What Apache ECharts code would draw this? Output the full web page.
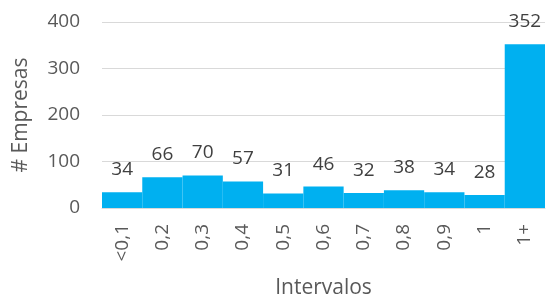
<!DOCTYPE html>
<html>
<head>
<meta charset="utf-8">
<script src="https://cdn.jsdelivr.net/npm/echarts@6/dist/echarts.min.js"></script>
<style>
  html, body { margin: 0; padding: 0; background: #fff; }
  #chart { width: 546px; height: 304px; }
</style>
</head>
<body>
<div id="chart"></div>
<script>
// data
const categories = ['<0,1', '0,2', '0,3', '0,4', '0,5', '0,6', '0,7', '0,8', '0,9', '1', '1+']
const empresas = [34, 66, 70, 57, 31, 46, 32, 38, 34, 28, 352]
const yTicks = [0, 100, 200, 300, 400]

const font = 'Open Sans'
const chart = echarts.init(document.getElementById('chart'))

chart.setOption({
  animation: false,
  grid: {
    left: 102,
    right: 1,
    top: 22,
    bottom: 95
  },
  xAxis: {
    type: 'category',
    data: categories,
    name: 'Intervalos',
    nameLocation: 'middle',
    nameGap: 70,
    nameTextStyle: { fontFamily: font, fontSize: 21, color: '#595959' },
    axisLine: { lineStyle: { color: '#d9d9d9', width: 1 } },
    axisTick: { show: false },
    axisLabel: {
      rotate: 90,
      margin: 16,
      fontFamily: font,
      fontSize: 19,
      color: '#595959'
    }
  },
  yAxis: {
    type: 'value',
    min: yTicks[0],
    max: yTicks[yTicks.length - 1],
    interval: 100,
    name: '# Empresas',
    nameLocation: 'middle',
    nameGap: 70,
    nameTextStyle: { fontFamily: font, fontSize: 21, color: '#595959' },
    axisLine: { show: false },
    axisTick: { show: false },
    axisLabel: {
      margin: 22,
      fontFamily: font,
      fontSize: 19,
      color: '#595959'
    },
    splitLine: { lineStyle: { color: '#d9d9d9', width: 1 } }
  },
  series: [{
    type: 'bar',
    data: empresas,
    barCategoryGap: '0%',
    itemStyle: { color: '#00b0f0' },
    label: {
      show: true,
      position: 'top',
      distance: 13,
      fontFamily: font,
      fontSize: 19,
      color: '#404040'
    }
  }]
})
</script>
</body>
</html>
